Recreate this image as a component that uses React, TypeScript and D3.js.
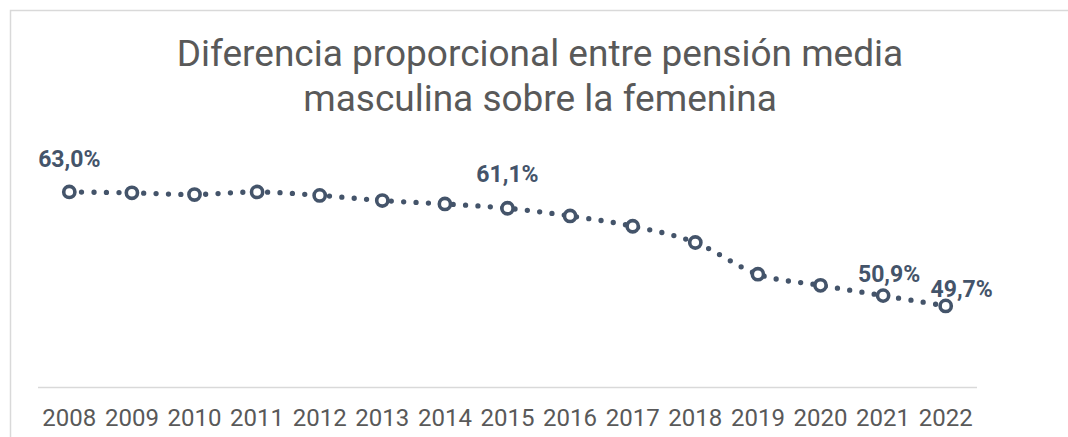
import React from "react";
import * as d3 from "d3";

const years = ["2008", "2009", "2010", "2011", "2012", "2013", "2014", "2015", "2016", "2017", "2018", "2019", "2020", "2021", "2022"];
const values = [63.0, 62.9, 62.7, 63.0, 62.6, 62.0, 61.6, 61.1, 60.2, 59.0, 57.1, 53.4, 52.1, 50.9, 49.7];
const labelledYears = ["2008", "2015", "2021", "2022"];
const titleLines = ["Diferencia proporcional entre pensión media", "masculina sobre la femenina"];

const W = 1068;
const H = 437;
const INK = "#44546a";
const GREY_TEXT = "#595959";
const RULE = "#d9d9d9";

// where each data label sits relative to its point (dx, dy to baseline)
const labelOffset: Record<string, [number, number]> = {
  "2008": [0, -25],
  "2015": [0, -26],
  "2021": [6, -14],
  "2022": [16, -9],
};

const fmt = (v: number) => v.toFixed(1).replace(".", ",") + "%";

export default function App() {
  const x = d3.scaleBand<string>().domain(years).range([38, 977]).padding(0);
  const y = d3.scaleLinear().domain([40, 70]).range([389, 132]);
  const cx = (yr: string) => (x(yr) as number) + x.bandwidth() / 2;

  const pts = years.map((yr, i) => ({ yr, v: values[i] }));
  const line = d3
    .line<{ yr: string; v: number }>()
    .x((d) => cx(d.yr))
    .y((d) => y(d.v))
    .curve(d3.curveCardinal);

  return (
    <svg
      width={W}
      height={H}
      style={{ position: "absolute", left: 0, top: 0, background: "#fff" }}
      fontFamily="Roboto, 'Noto Sans', sans-serif"
    >
      {/* chart frame, cut off at right and bottom */}
      <rect x={10.5} y={10.5} width={1100} height={500} fill="#fff" stroke={RULE} strokeWidth={1.5} />

      {titleLines.map((t, i) => (
        <text key={i} x={540} y={66 + i * 45} textAnchor="middle" fontSize={37} fill={GREY_TEXT}>
          {t}
        </text>
      ))}

      {/* category axis */}
      <line x1={x.range()[0]} x2={x.range()[1]} y1={387.5} y2={387.5} stroke={RULE} strokeWidth={1.5} />
      {years.map((yr) => (
        <text key={yr} x={cx(yr)} y={426} textAnchor="middle" fontSize={24} fill={GREY_TEXT}>
          {yr}
        </text>
      ))}

      <path
        d={line(pts) || ""}
        fill="none"
        stroke={INK}
        strokeWidth={5.3}
        strokeLinecap="round"
        strokeDasharray="0 12.4"
      />

      {pts.map((d) => (
        <circle key={d.yr} cx={cx(d.yr)} cy={y(d.v)} r={5.6} fill="#fff" stroke={INK} strokeWidth={3.6} />
      ))}

      {pts
        .filter((d) => labelledYears.includes(d.yr))
        .map((d) => {
          const [dx, dy] = labelOffset[d.yr];
          return (
            <text
              key={"l" + d.yr}
              x={cx(d.yr) + dx}
              y={y(d.v) + dy}
              textAnchor="middle"
              fontSize={23}
              fontWeight="bold"
              fill={INK}
            >
              {fmt(d.v)}
            </text>
          );
        })}
    </svg>
  );
}
